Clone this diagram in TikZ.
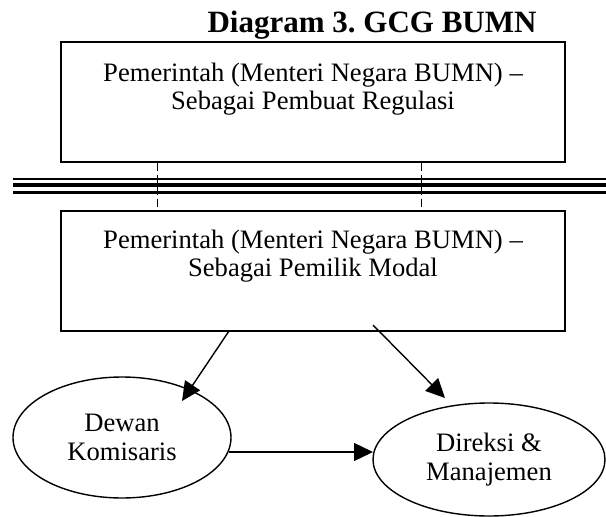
\documentclass[tikz,border=0pt]{standalone}
\usepackage{fontspec}
\setmainfont{Liberation Serif}
\usetikzlibrary{arrows.meta,shapes.geometric}
\frenchspacing
\begin{document}
\begin{tikzpicture}[x=1pt,y=-1pt,
  frame/.style={draw,line width=1.4pt,minimum width=504pt,minimum height=120pt,inner sep=0pt},
  caption/.style={font=\fontsize{26.6}{28}\selectfont,align=center,inner sep=0pt},
  oval/.style={ellipse,draw,line width=1.4pt,inner sep=0pt,
    font=\fontsize{26.6}{29}\selectfont,align=center},
  flow/.style={line width=1.4pt,-{Triangle[length=19pt,width=18pt]}},
  guide/.style={line width=1pt,dash pattern=on 8pt off 4pt}]
\useasboundingbox (0,0) rectangle (606,517);

% title
\node[anchor=base,inner sep=0pt,font=\fontsize{31}{34}\selectfont\bfseries]
  (title) at (372,32) {Diagram 3. GCG BUMN};

% the two roles of the ministry
\node[frame] (reg) at (313,102) {};
\node[caption,anchor=north] (regtext) at (313,62.6)
  {Pemerintah (Menteri Negara BUMN) --\\Sebagai Pembuat Regulasi};
\node[frame] (own) at (313,271) {};
\node[caption,anchor=north] (owntext) at (313,229.6)
  {Pemerintah (Menteri Negara BUMN) --\\Sebagai Pemilik Modal};

% separating triple rule
\draw[line width=2pt]   (13,179.3) -- (606,179.3);
\draw[line width=4.2pt] (13,185.2) -- (606,185.2);
\draw[line width=2.4pt] (13,192.5) -- (606,192.5);

% dashed links across the rule
\coordinate (dl) at (157,0);
\coordinate (dr) at (421,0);
\draw[guide] (reg.south -| dl) -- (own.north -| dl);
\draw[guide] (reg.south -| dr) -- (own.north -| dr);

% organs
\node[oval,minimum width=218pt,minimum height=121pt] (dk) at (122,437.5)
  {Dewan\\Komisaris};
\node[oval,minimum width=232pt,minimum height=113pt] (dm) at (489,459.5)
  {Direksi \&\\Manajemen};

% arrows
\coordinate (a1s) at (229,331);
\coordinate (a1e) at (182,401);
\coordinate (a2s) at (373,325);
\coordinate (a2e) at (445,398);
\coordinate (a3s) at (229,452);
\coordinate (a3e) at (373,452);
\draw[flow] (a1s) -- (a1e);
\draw[flow] (a2s) -- (a2e);
\draw[flow] (a3s) -- (a3e);
\end{tikzpicture}
\end{document}
